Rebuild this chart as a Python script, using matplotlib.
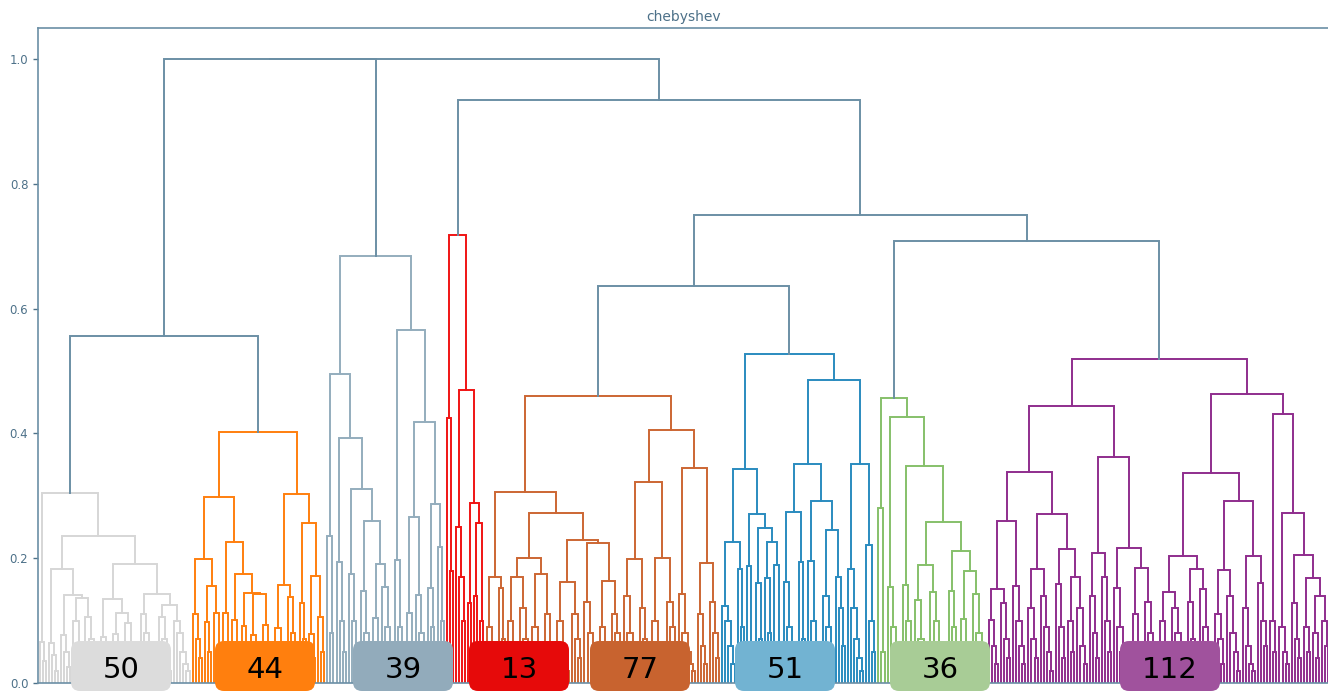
import matplotlib
matplotlib.use("Agg")
import matplotlib.pyplot as plt
from matplotlib.patches import FancyBboxPatch
from matplotlib.transforms import IdentityTransform

# cluster sizes shown in the boxes, left to right
cluster_sizes = [50, 44, 39, 13, 77, 51, 36, 112]

# merge heights.
# (h, left, right) = merge node, [h1, h2, ...] = small staircase of leaves, None = one leaf
gray_50 = (0.305,
    [0.066, 0.035],
    (0.236,
        (0.182,
            [0.064, 0.045, 0.02],
            (0.141,
                [0.077, 0.05, 0.025],
                (0.136, [0.10, 0.06, 0.03], [0.106, 0.07, 0.04, 0.02]))),
        (0.19,
            (0.135,
                [0.074, 0.05, 0.03],
                (0.112, [0.079, 0.05, 0.02], [0.096, 0.06, 0.04, 0.02])),
            (0.143,
                [0.111, 0.08, 0.05, 0.03, 0.02],
                (0.125, [0.106, 0.07, 0.04, 0.02], [0.10, 0.08, 0.05, 0.03, 0.02])))))

orange_44 = (0.402,
    (0.298,
        (0.199,
            [0.11, 0.07, 0.04],
            (0.155, [0.098, 0.05], [0.112, 0.06])),
        (0.226,
            [0.112, 0.06],
            (0.175,
                [0.101, 0.05],
                (0.144,
                    [0.091, 0.04],
                    (0.143, [0.077, 0.05, 0.03], [0.093, 0.06, 0.03]))))),
    (0.303,
        (0.157, [0.088, 0.06, 0.03], [0.138, 0.08, 0.04]),
        (0.256,
            [0.128, 0.07],
            (0.171, [0.078, 0.04], [0.106, 0.05]))))

steel_39 = (0.684,
    (0.495,
        [0.236, 0.08],
        (0.393,
            [0.194, 0.10, 0.05],
            (0.311,
                [0.175, 0.10, 0.05],
                (0.26,
                    [0.148, 0.08, 0.04],
                    (0.191, [0.104, 0.06], [0.154, 0.09, 0.04]))))),
    (0.566,
        [0.197, 0.09, 0.04],
        (0.419,
            (0.266, [0.112, 0.06], [0.141, 0.08, 0.04]),
            (0.287, [0.152, 0.09], [0.218, 0.10]))))

red_13 = (0.718,
    (0.425, None, [0.18]),
    (0.47,
        [0.25, 0.17, 0.10],
        (0.288, [0.128], (0.256, [0.14], [0.10]))))

brown_77 = (0.46,
    (0.306,
        (0.17, [0.09, 0.05, 0.03], [0.152, 0.07]),
        (0.272,
            (0.2,
                (0.17, [0.10, 0.06, 0.03], [0.12, 0.07, 0.04]),
                (0.175, [0.09, 0.05, 0.03], [0.11, 0.06, 0.02])),
            (0.229,
                (0.162, [0.10, 0.06, 0.03, 0.02], [0.11, 0.07, 0.04]),
                (0.224,
                    [0.13, 0.08, 0.05, 0.03],
                    (0.163, [0.09, 0.05, 0.03], [0.11, 0.08, 0.04]))))),
    (0.405,
        (0.323,
            (0.199, [0.14, 0.08, 0.05, 0.03], [0.12, 0.07, 0.03]),
            (0.2, [0.10, 0.06, 0.03, 0.02], [0.13, 0.09, 0.05])),
        (0.344,
            [0.143, 0.08, 0.05, 0.03, 0.02],
            (0.192, [0.11, 0.06, 0.03], [0.13, 0.08, 0.04]))))

blue_51 = (0.527,
    (0.343,
        (0.226, [0.123, 0.10, 0.06, 0.03], [0.182, 0.09]),
        (0.271,
            [0.187, 0.05],
            (0.248,
                [0.16, 0.07],
                (0.226, [0.168, 0.08], [0.189, 0.06])))),
    (0.486,
        (0.351,
            (0.274, [0.162, 0.09, 0.05, 0.03], [0.194, 0.07]),
            (0.292,
                [0.196, 0.10, 0.06, 0.03],
                (0.245, [0.14, 0.09, 0.05], [0.17, 0.12, 0.06]))),
        (0.351, [0.183, 0.12, 0.07, 0.04, 0.02], [0.221, 0.10, 0.05])))

green_36 = (0.457,
    [0.28, 0.05],
    (0.427,
        [0.154, 0.09, 0.05, 0.03],
        (0.348,
            [0.157, 0.10, 0.04],
            (0.258,
                (0.189, [0.133, 0.07, 0.04, 0.02], [0.146, 0.10, 0.05, 0.03, 0.02]),
                (0.212,
                    [0.148, 0.09, 0.04],
                    (0.18, [0.103, 0.06, 0.03], [0.143, 0.08, 0.04, 0.02]))))))

purple_112 = (0.519,
    (0.444,
        (0.338,
            (0.26,
                (0.151, [0.101, 0.06, 0.03], [0.128, 0.07, 0.04]),
                [0.155, 0.10, 0.06, 0.03]),
            (0.271,
                (0.183, [0.12, 0.07, 0.04], [0.14, 0.09, 0.05, 0.02]),
                (0.215,
                    [0.159, 0.09, 0.04],
                    (0.17, [0.10, 0.05], [0.12, 0.06, 0.03])))),
        (0.362,
            (0.208, [0.14, 0.08, 0.04], [0.17, 0.10, 0.05]),
            (0.216,
                [0.152, 0.09, 0.05, 0.03, 0.02],
                (0.184, [0.11, 0.06, 0.03], [0.13, 0.08, 0.04, 0.02])))),
    (0.463,
        (0.336,
            (0.204,
                (0.146, [0.10, 0.06, 0.03], [0.12, 0.08, 0.05, 0.02]),
                (0.183, [0.13, 0.07, 0.04], [0.15, 0.09, 0.05, 0.03])),
            (0.292,
                (0.181, [0.11, 0.07, 0.03], [0.14, 0.08, 0.05, 0.02]),
                (0.204, [0.12, 0.06, 0.03, 0.02], [0.16, 0.10, 0.06]))),
        (0.431,
            [0.10, 0.05],
            (0.272,
                [0.09, 0.05, 0.03],
                (0.205,
                    [0.128, 0.07, 0.04],
                    (0.168,
                        [0.09, 0.05],
                        (0.14, [0.08, 0.04], [0.10, 0.06])))))))

cluster_trees = [gray_50, orange_44, steel_39, red_13, brown_77, blue_51, green_36, purple_112]

# links above the clusters; integers point into cluster_trees
top_tree = (1.0,
    (1.0, (0.556, 0, 1), 2),
    (0.934, 3, (0.75, (0.636, 4, 5), (0.708, 6, 7))))

# styles
above_color = "#6b8fa5"
line_colors = ["#d6d6d6", "#ff7f0e", "#94adbd", "#f01414", "#cc6633", "#2a8bbf", "#86c06a", "#8f2d8d"]
box_colors = ["#dcdcdc", "#ff7f0e", "#92abbb", "#e60a0a", "#c8632f", "#72b3d2", "#a8cc96", "#a0529d"]
label_px = [121, 265, 403, 519, 640, 785, 940, 1170]
text_color = "#4d7189"

W, H = 1328, 692


def n_leaves(node):
    if node is None:
        return 1
    if isinstance(node, list):
        return len(node) + 1
    return n_leaves(node[1]) + n_leaves(node[2])


def comb(heights):
    sub = None
    for h in reversed(heights):
        sub = (h, None, sub)
    return sub


for t, n in zip(cluster_trees, cluster_sizes):
    assert n_leaves(t) == n, (n_leaves(t), n)
total = sum(cluster_sizes)

fig = plt.figure(figsize=(W / 100, H / 100), dpi=100)
ax = fig.add_axes([38 / W, 9 / H, 1292 / W, 655 / H])

counter = [0]


def draw(node, color):
    if node is None:
        x = 5 + 10 * counter[0]
        counter[0] += 1
        return x, 0.0
    if isinstance(node, int):
        return draw(cluster_trees[node], line_colors[node])
    if isinstance(node, list):
        return draw(comb(node), color)
    h, left, right = node
    xl, hl = draw(left, color)
    xr, hr = draw(right, color)
    ax.plot([xl, xl, xr, xr], [hl, h, h, hr], color=color, lw=1.4,
            solid_joinstyle="miter")
    return (xl + xr) / 2, h


draw(top_tree, above_color)

ax.set_xlim(0, 10 * total)
ax.set_ylim(0, 1.05)
ax.set_xticks([])
ax.set_yticks([0.0, 0.2, 0.4, 0.6, 0.8, 1.0])
ax.tick_params(axis="y", colors=text_color, labelsize=8.5, length=3.5, width=1)
for s in ["left", "top", "bottom"]:
    ax.spines[s].set_color(above_color)
    ax.spines[s].set_linewidth(1.2)
ax.spines["right"].set_visible(False)
ax.set_title("chebyshev", color=text_color, fontsize=10, pad=5)

# count boxes along the bottom
for px, n, c in zip(label_px, cluster_sizes, box_colors):
    box = FancyBboxPatch((px - 50, 1), 100, 50,
                         boxstyle="round,pad=0,rounding_size=9",
                         transform=IdentityTransform(), facecolor=c,
                         edgecolor="none", zorder=5)
    fig.add_artist(box)
    fig.text(px / W, 14 / H, str(n), ha="center", va="baseline",
             fontsize=21, color="black", zorder=6)

fig.savefig("out.png", dpi=100)
